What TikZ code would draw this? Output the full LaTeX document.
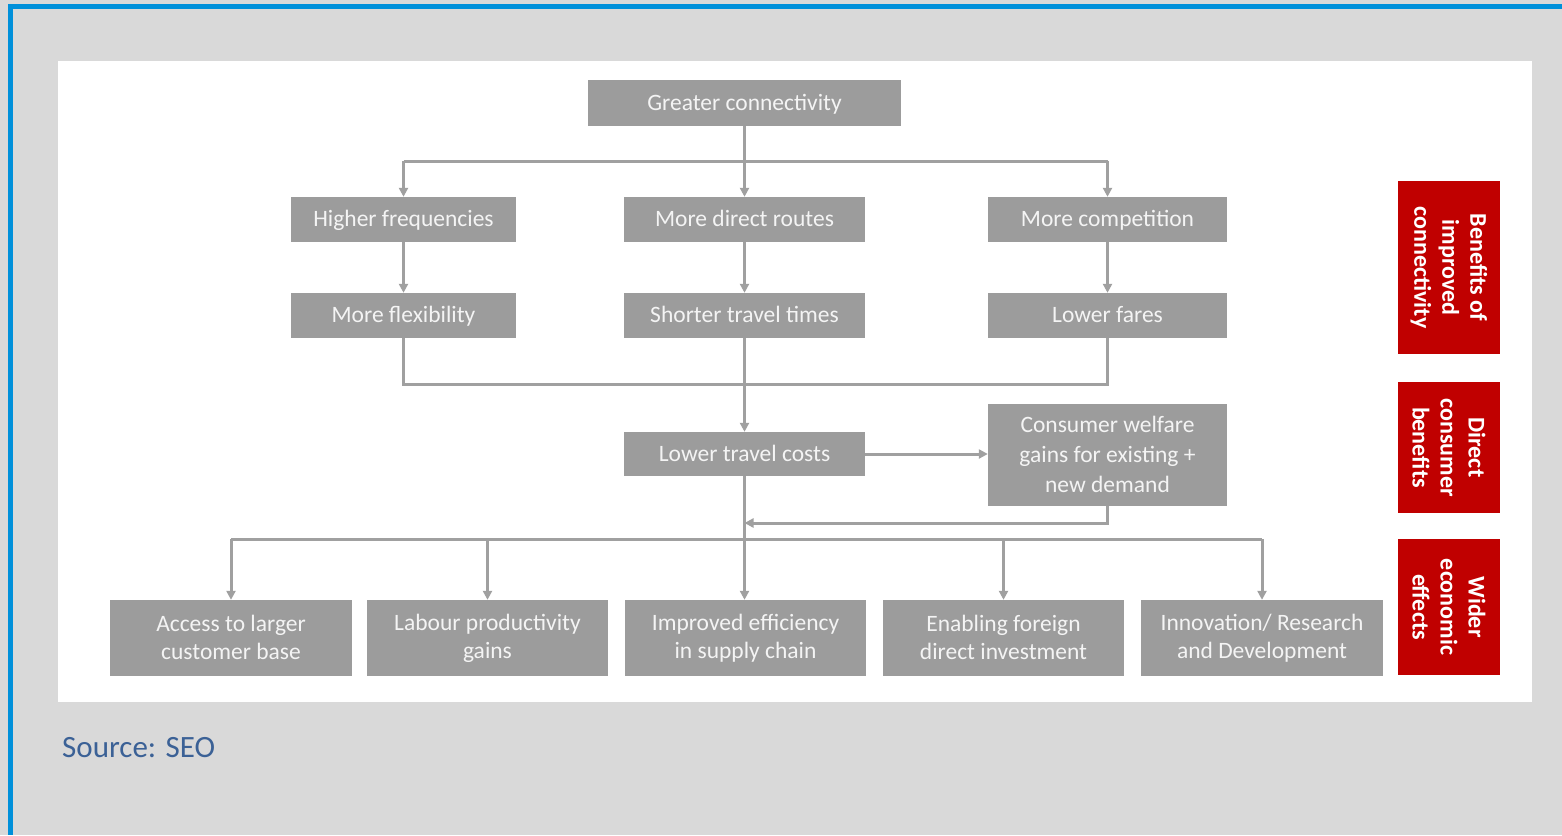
\documentclass[tikz,border=0pt]{standalone}
\usepackage{fontspec}
\setmainfont{Carlito}
\usetikzlibrary{arrows.meta}
\definecolor{bgray}{HTML}{D9D9D9}
\definecolor{bblue}{HTML}{0090DA}
\definecolor{boxgray}{HTML}{9C9C9C}
\definecolor{boxtext}{HTML}{F4F4F4}
\definecolor{linegray}{HTML}{A0A0A0}
\definecolor{redbox}{HTML}{C00000}
\definecolor{srcblue}{HTML}{3B6196}
\tikzset{
  gboxbase/.style={fill=boxgray, text=boxtext, inner sep=0pt, align=center,
    font=\fontsize{23.5}{28}\selectfont},
  gbox/.style={gboxbase, text height=17pt, text depth=3pt},
  mbox/.style={gboxbase, execute at begin node={\rule{0pt}{18pt}}, execute at end node={\rule[-1pt]{0pt}{1pt}}},
  rbox/.style={fill=redbox, text=white, inner sep=0pt,
    minimum width=102pt},
  rlabel/.style={text=white, rotate=-90, align=center, font=\bfseries\fontsize{24}{28}\selectfont},
  conn/.style={draw=linegray, line width=3pt},
  arr/.style={conn, -{Triangle[length=9pt,width=9pt]}},
}
\begin{document}
\begin{tikzpicture}[x=1pt,y=-1pt]
\path[use as bounding box] (0,0) rectangle (1562,835);
\fill[bgray] (0,0) rectangle (1562,835);
\fill[bblue] (8,4) rectangle (1562,9);
\fill[bblue] (8,4) rectangle (13,835);
\fill[white] (58,61) rectangle (1532,702);

% top rows
\node[gbox, minimum width=313pt, minimum height=46pt] (gc) at (744.5,103) {Greater connectivity};
\node[gbox, minimum width=225pt, minimum height=45pt] (hf) at (403.5,219.5) {Higher frequencies};
\node[gbox, minimum width=241pt, minimum height=45pt] (mdr) at (744.5,219.5) {More direct routes};
\node[gbox, minimum width=239pt, minimum height=45pt] (mc) at (1107.5,219.5) {More competition};
\node[gbox, minimum width=225pt, minimum height=45pt] (mf) at (403.5,315.5) {More flexibility};
\node[gbox, minimum width=241pt, minimum height=45pt] (stt) at (744.5,315.5) {Shorter travel times};
\node[gbox, minimum width=239pt, minimum height=45pt] (lf) at (1107.5,315.5) {Lower fares};
\node[gbox, minimum width=241pt, minimum height=44pt] (ltc) at (744.5,454) {Lower travel costs};
\node[mbox, minimum width=239pt, minimum height=102pt, font=\fontsize{23.5}{30}\selectfont] (cw) at (1107.5,455) {Consumer welfare\\gains for existing +\\new demand};

% bottom row
\node[mbox, minimum width=242pt, minimum height=76pt] (acc) at (231,638) {Access to larger\\customer base};
\node[mbox, minimum width=241pt, minimum height=76pt] (lab) at (487.5,638) {Labour productivity\\gains};
\node[mbox, minimum width=241pt, minimum height=76pt] (imp) at (745.5,638) {Improved efficiency\\in supply chain};
\node[mbox, minimum width=241pt, minimum height=76pt] (efd) at (1003.5,638) {Enabling foreign\\direct investment};
\node[mbox, minimum width=242pt, minimum height=76pt] (inn) at (1262,638) {Innovation/ Research\\and Development};

% red side boxes
\node[rbox, minimum height=173pt] (r1) at (1449,267.5) {};
\node[rlabel] (r1t) at (r1.center) {Benefits of\\improved\\connectivity};
\node[rbox, minimum height=131pt] (r2) at (1449,447.5) {};
\node[rlabel] (r2t) at (r2.center) {Direct\\consumer\\benefits};
\node[rbox, minimum height=136pt] (r3) at (1449,607) {};
\node[rlabel] (r3t) at (r3.center) {Wider\\economic\\effects};

% junction coordinates
\coordinate (j1) at (744.5,161);
\coordinate (j2) at (744.5,384);
\coordinate (j3) at (744.5,523);
\coordinate (j4) at (744.5,539);

% connectors, top
\draw[conn] (gc.south) -- (j1);
\draw[conn] (hf.north |- j1) -- (mc.north |- j1);
\draw[arr] (hf.north |- j1) -- (hf.north);
\draw[arr] (j1) -- (mdr.north);
\draw[arr] (mc.north |- j1) -- (mc.north);
\draw[arr] (hf.south) -- (mf.north);
\draw[arr] (mdr.south) -- (stt.north);
\draw[arr] (mc.south) -- (lf.north);

% merge
\draw[conn] (mf.south) |- (j2);
\draw[conn] (lf.south) |- (j2);
\draw[arr] (stt.south) -- (ltc.north);

% welfare
\draw[arr] (ltc.east) -- (cw.west |- ltc.east);
\draw[arr] (cw.south) |- (j3);

% bottom fan
\draw[conn] (ltc.south) -- (j4);
\draw[conn] (acc.north |- j4) -- (inn.north |- j4);
\draw[arr] (acc.north |- j4) -- (acc.north);
\draw[arr] (lab.north |- j4) -- (lab.north);
\draw[arr] (j4) -- (j4 |- imp.north);
\draw[arr] (efd.north |- j4) -- (efd.north);
\draw[arr] (inn.north |- j4) -- (inn.north);

% source
\node[anchor=base west, text=srcblue, inner sep=0pt, font=\fontsize{31}{34}\selectfont] (src) at (62,757) {Source: SEO};
\end{tikzpicture}
\end{document}
